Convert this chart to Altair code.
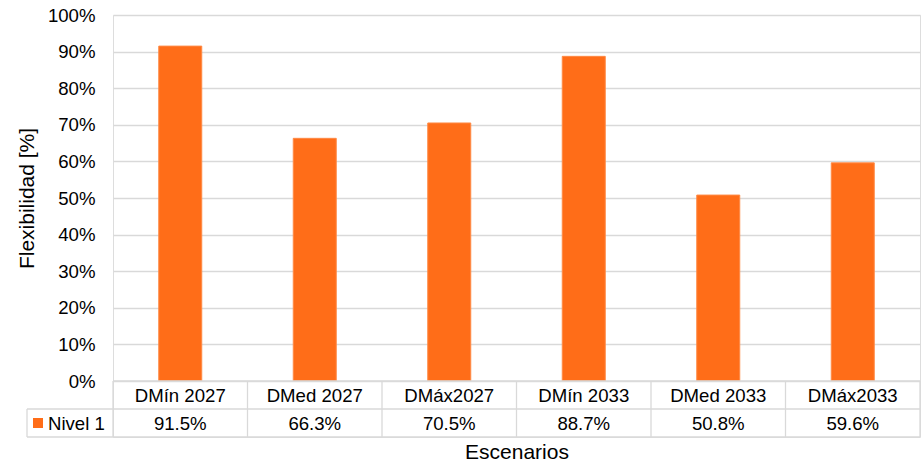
import altair as alt
import pandas as pd

categories = ["DMín 2027", "DMed 2027", "DMáx2027", "DMín 2033", "DMed 2033", "DMáx2033"]
values = [91.5, 66.3, 70.5, 88.7, 50.8, 59.6]
series_name = "Nivel 1"
y_ticks = [0, 10, 20, 30, 40, 50, 60, 70, 80, 90, 100]

FONT = "Liberation Sans"
ORANGE = "#FF6D18"
GRID = "#D9D9D9"
W = 807
H = 366
TH = 56
n = len(categories)

df = pd.DataFrame({"cat": categories, "val": values, "idx": list(range(n))})

bars = alt.Chart(df).mark_bar(size=43, color=ORANGE, stroke="#FF8A45", strokeWidth=1).encode(
    x=alt.X("cat:N", sort=categories, scale=alt.Scale(paddingInner=0, paddingOuter=0), axis=None),
    y=alt.Y("val:Q", scale=alt.Scale(domain=[0, 100], nice=False),
            axis=alt.Axis(values=y_ticks, labelExpr="datum.value + '%'", grid=True, gridColor=GRID,
                          gridWidth=1.3, domain=False, ticks=False, labelPadding=18,
                          labelFontSize=18.6, labelFont=FONT, labelColor="#000000",
                          title="Flexibilidad [%]", titleFont=FONT, titleFontSize=21,
                          titleFontWeight="normal", titleColor="#000000", titlePadding=10)),
).properties(width=W, height=H)

LEG = 86 / (W / n)  # width of the legend cell in category units
vlines = pd.DataFrame({"x": [float(i) for i in range(n + 1)] + [-LEG],
                       "y": [0.0] * (n + 1) + [1.0], "y2": [2.0] * (n + 2)})
hlines = pd.DataFrame({"y": [0.0, 1.0, 2.0], "x": [0.0, -LEG, -LEG], "x2": [float(n)] * 3})

xs = alt.Scale(domain=[0, n], nice=False, zero=False)
ys = alt.Scale(domain=[0, 2], reverse=True, nice=False, zero=False)
xaxis = alt.Axis(title="Escenarios", labels=False, ticks=False, domain=False, grid=False,
                 titleFont=FONT, titleFontSize=21, titleFontWeight="normal",
                 titleColor="#000000", titlePadding=4)


def X(field):
    return alt.X(field, scale=xs, axis=xaxis, title="Escenarios")


h_rules = alt.Chart(hlines).mark_rule(color=GRID, strokeWidth=1.3).encode(
    x=X("x:Q"), x2="x2:Q", y=alt.Y("y:Q", scale=ys, axis=None),
)
v_rules = alt.Chart(vlines).mark_rule(color=GRID, strokeWidth=1.3).encode(
    x=X("x:Q"), y=alt.Y("y:Q", scale=ys, axis=None), y2="y2:Q",
)
cat_text = alt.Chart(df).transform_calculate(xc="datum.idx + 0.5", row="0.5").mark_text(
    font=FONT, fontSize=18.6, color="#000000", baseline="middle", align="center", dy=1
).encode(
    x=X("xc:Q"), y=alt.Y("row:Q", scale=ys, axis=None), text="cat:N",
)
val_text = alt.Chart(df).transform_calculate(
    xc="datum.idx + 0.5", row="1.5", lab="format(datum.val, '.1f') + '%'"
).mark_text(font=FONT, fontSize=18.6, color="#000000", baseline="middle", align="center", dy=1).encode(
    x=X("xc:Q"), y=alt.Y("row:Q", scale=ys, axis=None), text="lab:N",
)
leg_df = pd.DataFrame({"name": [series_name], "x": [-LEG], "row": [1.5]})
leg_sq = alt.Chart(leg_df).mark_square(size=100, color=ORANGE, opacity=1).encode(
    x=X("x:Q"), y=alt.Y("row:Q", scale=ys, axis=None), xOffset=alt.value(11),
)
leg_tx = alt.Chart(leg_df).mark_text(font=FONT, fontSize=18.6, color="#000000", align="left",
                                     baseline="middle", dx=21, dy=1).encode(
    x=X("x:Q"), y=alt.Y("row:Q", scale=ys, axis=None), text="name:N",
)

table = alt.layer(h_rules, v_rules, cat_text, val_text, leg_sq, leg_tx).properties(width=W, height=TH)

chart = alt.vconcat(bars, table, spacing=0, bounds="flush").properties(
    padding={"left": 15, "top": 5, "right": 0, "bottom": 0}
).configure_view(stroke=None).configure(font=FONT)

chart.save("out.html", embed_options={"renderer": "svg", "actions": False})
